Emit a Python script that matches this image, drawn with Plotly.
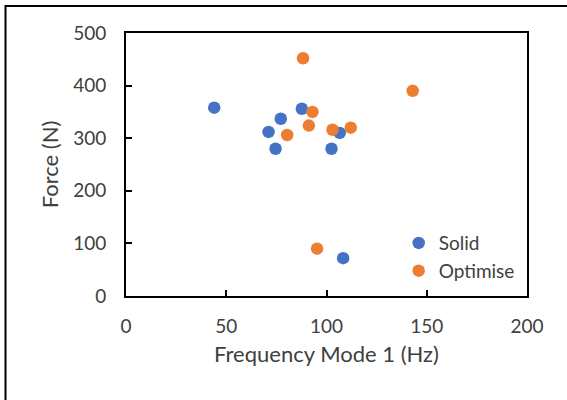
import plotly.graph_objects as go

solid_x = [44.0, 87.7, 77.2, 71.1, 74.6, 102.5, 106.6, 108.3]
solid_y = [358, 356, 337, 312, 280, 280, 310, 72]
opt_x = [88.3, 93.0, 80.4, 91.2, 103.0, 112.1, 143.0, 95.3]
opt_y = [452, 350, 306, 324, 316, 320, 390, 90]

BLUE = "#4472C4"
ORANGE = "#ED7D31"
TXT = "#404040"
FONT = "Lato"

fig = go.Figure()
fig.add_trace(go.Scatter(x=solid_x, y=solid_y, mode="markers", name="Solid",
                         marker=dict(color=BLUE, size=12.5, line=dict(width=0))))
fig.add_trace(go.Scatter(x=opt_x, y=opt_y, mode="markers", name="Optimise",
                         marker=dict(color=ORANGE, size=12.5, line=dict(width=0))))

axis_common = dict(showline=True, linewidth=2, linecolor="black", mirror=True,
                   ticks="inside", ticklen=6, tickwidth=2, tickcolor="black",
                   showgrid=False, zeroline=False,
                   tickfont=dict(family=FONT, size=19, color=TXT))

fig.update_xaxes(range=[0, 200], tickvals=[0, 50, 100, 150, 200],
                 title=dict(text="Frequency Mode 1 (Hz)", font=dict(family=FONT, size=22, color=TXT), standoff=11),
                 ticklabelstandoff=12, **axis_common)
fig.update_yaxes(range=[0, 500], tickvals=[0, 100, 200, 300, 400, 500],
                 title=dict(text="Force (N)", font=dict(family=FONT, size=22, color=TXT), standoff=8),
                 ticklabelstandoff=14, **axis_common)

fig.update_layout(
    width=567, height=400,
    margin=dict(l=126, r=40, t=33, b=104),
    paper_bgcolor="white", plot_bgcolor="white",
    showlegend=True,
    legend=dict(x=0.68, y=0.148, xanchor="left", yanchor="middle",
                font=dict(family=FONT, size=19, color=TXT),
                bgcolor="rgba(0,0,0,0)", itemwidth=30, tracegroupgap=0),
    shapes=[dict(type="rect", xref="paper", yref="paper",
                 x0=(5.5 - 126) / 401, x1=(600 - 126) / 401,
                 y0=(296 - 450) / 263, y1=(296 - 6) / 263,
                 line=dict(color="black", width=2), fillcolor="rgba(0,0,0,0)", layer="below")],
)

fig.write_html("out.html")
